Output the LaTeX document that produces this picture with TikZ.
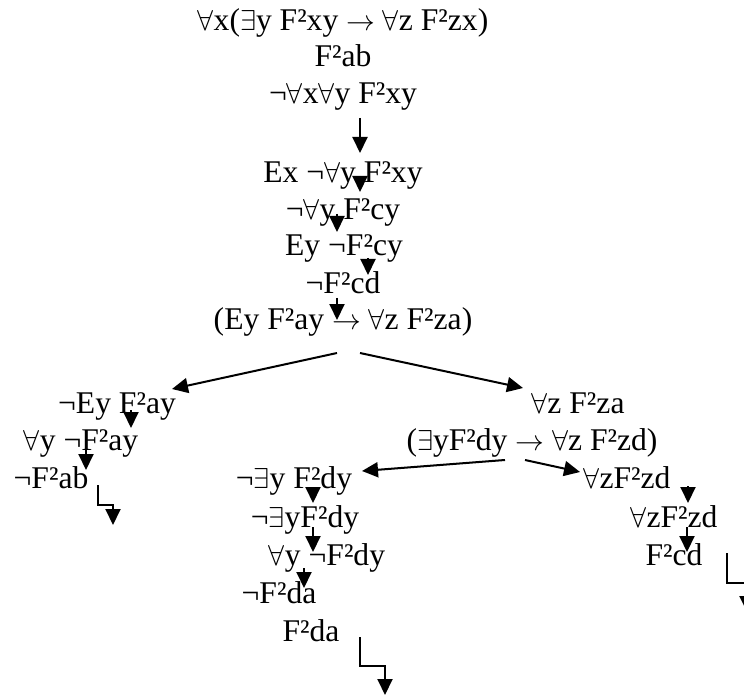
\documentclass[tikz,border=0pt]{standalone}
\usepackage{fontspec}
\setmainfont{Liberation Serif}
\usetikzlibrary{arrows.meta}
\newcommand{\forallsym}{\ensuremath{\forall}}
\newcommand{\existsym}{\ensuremath{\exists}}
\newcommand{\impsym}{\ensuremath{\rightarrow}}

\begin{document}
\begin{tikzpicture}[
    x=0.5pt, y=-0.5pt,
    formula/.style={font=\fontsize{15.8}{19}\selectfont, anchor=base, inner sep=0pt},
    arrow/.style={line width=1pt,-{Triangle[width=7.5pt,length=8pt]}}
]
\useasboundingbox (0,0) rectangle (744,695);

% Trunk of the tree
\node[formula] (f1) at (343,31) {\forallsym x(\existsym y F²xy \impsym{} \forallsym z F²zx)};
\node[formula] (f2) at (343,67) {F²ab};
\node[formula] (f3) at (343,104) {¬\forallsym x\forallsym y F²xy};
\node[formula] (f4) at (343,183) {Ex ¬\forallsym y F²xy};
\node[formula] (f5) at (343,220) {¬\forallsym y F²cy};
\node[formula] (f6) at (344,256) {Ey ¬F²cy};
\node[formula] (f7) at (343,293) {¬F²cd};
\node[formula] (f8) at (343,329) {(Ey F²ay \impsym{} \forallsym z F²za)};

% Left branch
\node[formula] (l1) at (117,413) {¬Ey F²ay};
\node[formula] (l2) at (81,450) {\forallsym y ¬F²ay};
\node[formula] (l3) at (51,488) {¬F²ab};

% Right branch
\node[formula] (r1) at (578,413) {\forallsym z F²za};
\node[formula] (r2) at (532,450) {(\existsym yF²dy \impsym{} \forallsym z F²zd)};
\node[formula] (rl1) at (294,488) {¬\existsym y F²dy};
\node[formula] (rl2) at (305,527) {¬\existsym yF²dy};
\node[formula] (rl3) at (327,565) {\forallsym y ¬F²dy};
\node[formula] (rl4) at (279,603) {¬F²da};
\node[formula] (rl5) at (311,641) {F²da};
\node[formula] (rr1) at (627,488) {\forallsym zF²zd};
\node[formula] (rr2) at (674,527) {\forallsym zF²zd};
\node[formula] (rr3) at (674,565) {F²cd};

% Arrow ends
\coordinate (a1s) at (360,118);  \coordinate (a1e) at (360,153);
\coordinate (a2s) at (360,176);  \coordinate (a2e) at (360,192);
\coordinate (a3s) at (337,214);  \coordinate (a3e) at (337,232);
\coordinate (a4s) at (368,258);  \coordinate (a4e) at (368,275);
\coordinate (a5s) at (337,298);  \coordinate (a5e) at (337,320);
\coordinate (b1s) at (337,353);  \coordinate (b1e) at (172,389);
\coordinate (b2s) at (360,353);  \coordinate (b2e) at (523,388);
\coordinate (a6s) at (131,410);  \coordinate (a6e) at (131,428);
\coordinate (a7s) at (86,448);   \coordinate (a7e) at (86,470);
\coordinate (b3s) at (505,460);  \coordinate (b3e) at (362,471);
\coordinate (b4s) at (525,460);  \coordinate (b4e) at (580,472);
\coordinate (a8s) at (313,490);  \coordinate (a8e) at (313,503);
\coordinate (a9s) at (313,527);  \coordinate (a9e) at (313,552);
\coordinate (a10s) at (304,568); \coordinate (a10e) at (304,588);
\coordinate (a11s) at (688,486); \coordinate (a11e) at (688,503);
\coordinate (a12s) at (687,527); \coordinate (a12e) at (687,552);
\coordinate (x1s) at (98,485);   \coordinate (x1m) at (113,505);  \coordinate (x1e) at (113,525);
\coordinate (x2s) at (360,637);  \coordinate (x2m) at (385,666);  \coordinate (x2e) at (385,695);
\coordinate (x3s) at (727,553);  \coordinate (x3m) at (747,583);  \coordinate (x3e) at (747,612);

% Connections
\draw[arrow] (a1s) -- (a1e);
\draw[arrow] (a2s) -- (a2e);
\draw[arrow] (a3s) -- (a3e);
\draw[arrow] (a4s) -- (a4e);
\draw[arrow] (a5s) -- (a5e);
\draw[arrow] (b1s) -- (b1e);
\draw[arrow] (b2s) -- (b2e);
\draw[arrow] (a6s) -- (a6e);
\draw[arrow] (a7s) -- (a7e);
\draw[arrow] (b3s) -- (b3e);
\draw[arrow] (b4s) -- (b4e);
\draw[arrow] (a8s) -- (a8e);
\draw[arrow] (a9s) -- (a9e);
\draw[arrow] (a10s) -- (a10e);
\draw[arrow] (a11s) -- (a11e);
\draw[arrow] (a12s) -- (a12e);

% Closed branches
\draw[arrow] (x1s) |- (x1m) -- (x1e);
\draw[arrow] (x2s) |- (x2m) -- (x2e);
\draw[arrow] (x3s) |- (x3m) -- (x3e);

\end{tikzpicture}
\end{document}
